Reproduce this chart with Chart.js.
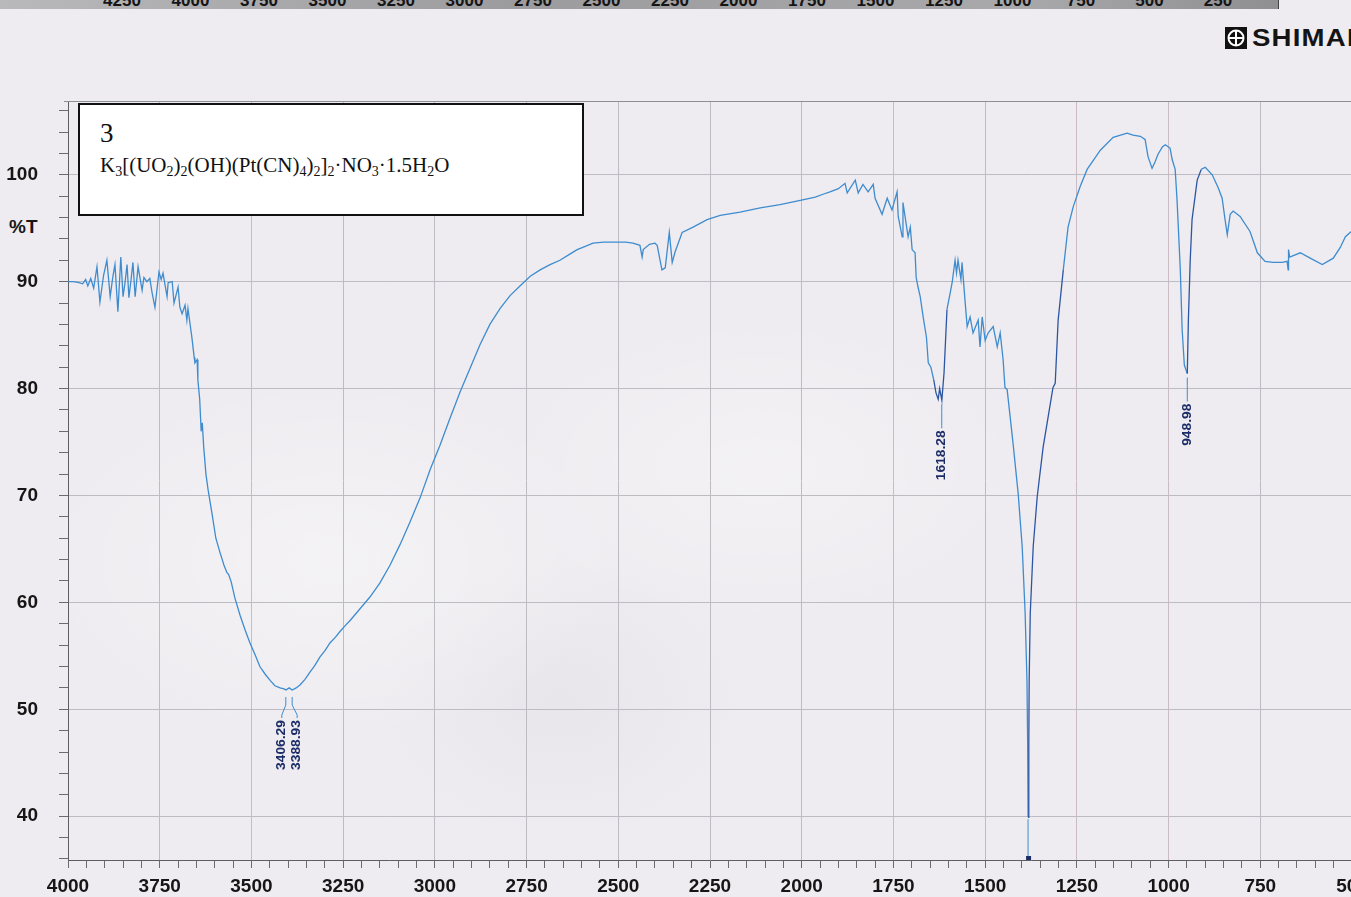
<!DOCTYPE html>
<html>
<head>
<meta charset="utf-8">
<title>IR spectrum 3</title>
<script src="https://cdn.jsdelivr.net/npm/chart.js@4.4.1/dist/chart.umd.min.js"></script>
<style>
html, body { margin: 0; padding: 0; width: 1351px; height: 897px; overflow: hidden; }
body {
    position: relative;
    font-family: 'Liberation Sans', Arial, sans-serif;
    background:
        radial-gradient(ellipse 420px 260px at 330px 560px, rgba(255,255,255,0.35), rgba(255,255,255,0) 70%),
        radial-gradient(ellipse 380px 220px at 760px 470px, rgba(255,255,255,0.3), rgba(255,255,255,0) 70%),
        radial-gradient(ellipse 260px 200px at 560px 700px, rgba(214,212,220,0.25), rgba(214,212,220,0) 70%),
        #eeecf0;
}
#chart-wrap { position: absolute; left: 0; top: 0; width: 1400px; height: 897px; }
#top-strip {
    position: absolute; left: 0; top: 0; width: 1278px; height: 9px; overflow: hidden;
    background: linear-gradient(to right, #b9b9bb, #9c9c9e 40%, #a9a9ab 80%, #8f8f91);
    border-right: 1px solid #444;
}
#top-strip span {
    position: absolute; top: -9px; font: bold 17px 'Liberation Sans', Arial, sans-serif; color: #151515;
    transform: translateX(-50%);
}
#logo { position: absolute; left: 1225px; top: 27px; height: 22px; white-space: nowrap; }
#logo svg { position: absolute; left: 0; top: 0; }
#logo span {
    position: absolute; left: 27px; top: -2px; font: bold 23px 'Liberation Sans', Arial, sans-serif;
    letter-spacing: 1px; color: #141414; transform: scaleX(1.2); transform-origin: left center;
}
#title-box {
    position: absolute; left: 78px; top: 103px; width: 502px; height: 109px;
    background: #fff; border: 2px solid #111; z-index: 2;
    font-family: 'Liberation Serif', 'Times New Roman', serif; color: #111;
}
#title-box .num { position: absolute; left: 20px; top: 13px; font-size: 27px; }
#title-box .formula { position: absolute; left: 20px; top: 48px; font-size: 21px; white-space: nowrap; }
#title-box sub { font-size: 14px; vertical-align: -4px; line-height: 0; }
#unit { position: absolute; left: 9px; top: 216px; font: bold 19px 'Liberation Sans', Arial, sans-serif; color: #161616; }
</style>
</head>
<body>

<div id="top-strip"></div>
<div id="logo">
    <svg width="22" height="22" viewBox="0 0 22 22">
        <rect x="0" y="0" width="22" height="22" fill="#111"/>
        <circle cx="11" cy="11" r="7.5" fill="none" stroke="#fff" stroke-width="2"/>
        <line x1="11" y1="3.5" x2="11" y2="18.5" stroke="#fff" stroke-width="2"/>
        <line x1="3.5" y1="11" x2="18.5" y2="11" stroke="#fff" stroke-width="2"/>
    </svg>
    <span>SHIMADZU</span>
</div>
<div id="title-box">
    <div class="num">3</div>
    <div class="formula">K<sub>3</sub>[(UO<sub>2</sub>)<sub>2</sub>(OH)(Pt(CN)<sub>4</sub>)<sub>2</sub>]<sub>2</sub>·NO<sub>3</sub>·1.5H<sub>2</sub>O</div>
</div>
<div id="unit">%T</div>

<div id="chart-wrap"><canvas id="ir-chart" width="1400" height="897"></canvas></div>

<script>
// Spectrum (wavenumber in cm-1, transmittance in %T)
const wavenumbers = [
    4000, 3985, 3970, 3960, 3952, 3946, 3938, 3930, 3921, 3913, 3903, 3894, 3885, 3878, 3872, 3864,
    3856, 3850, 3845, 3839, 3834, 3828, 3823, 3817, 3809, 3798, 3793, 3785, 3777, 3771, 3763, 3752,
    3746, 3741, 3730, 3727, 3716, 3711, 3700, 3695, 3689, 3681, 3676, 3673, 3662, 3656, 3654, 3648,
    3646, 3641, 3637, 3634, 3630, 3624, 3618, 3607, 3597, 3586, 3575, 3567, 3562, 3555, 3545, 3531,
    3517, 3504, 3490, 3477, 3463, 3449, 3436, 3422, 3411, 3406, 3397, 3389, 3378, 3367, 3354, 3340,
    3327, 3313, 3299, 3286, 3272, 3258, 3245, 3231, 3204, 3177, 3150, 3122, 3095, 3068, 3040, 3013,
    2986, 2959, 2931, 2904, 2877, 2850, 2822, 2795, 2768, 2740, 2713, 2686, 2659, 2631, 2612, 2590,
    2569, 2540, 2509, 2480, 2460, 2441, 2435, 2432, 2415, 2400, 2394, 2381, 2372, 2361, 2353, 2345,
    2326, 2296, 2258, 2222, 2168, 2113, 2059, 2004, 1963, 1940, 1923, 1900, 1882, 1876, 1854, 1846,
    1833, 1819, 1805, 1800, 1781, 1767, 1754, 1740, 1737, 1726, 1724, 1710, 1704, 1699, 1691, 1688,
    1683, 1677, 1669, 1660, 1655, 1648, 1640, 1634, 1628, 1624, 1618, 1612, 1604, 1595, 1590, 1582,
    1578, 1574, 1566, 1563, 1555, 1549, 1541, 1533, 1519, 1514, 1508, 1500, 1492, 1478, 1467, 1459,
    1451, 1446, 1440, 1424, 1410, 1399, 1391, 1386, 1384, 1383, 1381, 1380, 1377, 1369, 1358, 1342,
    1315, 1309, 1301, 1287, 1274, 1260, 1241, 1222, 1186, 1151, 1113, 1097, 1077, 1064, 1056, 1045,
    1037, 1029, 1017, 1009, 996, 990, 982, 977, 968, 963, 957, 949, 946, 941, 936, 922,
    911, 900, 881, 865, 854, 846, 840, 832, 824, 805, 778, 758, 737, 715, 690, 677,
    674, 673, 670, 641, 614, 581, 551, 532, 518, 502
];
const transmittance = [
    90.0, 90.0, 89.9, 89.8, 90.2, 89.6, 90.3, 89.4, 91.4, 88.1, 90.6, 92.0, 88.6, 90.4, 91.6, 87.2,
    92.3, 88.6, 89.8, 91.6, 88.5, 90.2, 91.8, 88.6, 91.4, 89.2, 90.4, 90.0, 90.3, 89.0, 87.6, 90.9,
    90.2, 90.8, 88.6, 89.9, 90.0, 88.0, 89.5, 87.6, 87.0, 87.8, 86.4, 87.5, 84.7, 82.9, 82.4, 82.7,
    80.8, 79.0, 76.0, 76.8, 74.5, 72.0, 70.5, 68.2, 66.0, 64.7, 63.5, 62.8, 62.6, 61.9, 60.4, 58.8,
    57.4, 56.2, 55.1, 54.0, 53.3, 52.7, 52.2, 52.0, 51.9, 51.8, 52.0, 51.8, 52.0, 52.3, 52.8, 53.5,
    54.1, 54.9, 55.5, 56.2, 56.7, 57.3, 57.8, 58.3, 59.4, 60.5, 61.8, 63.5, 65.4, 67.5, 69.8, 72.4,
    74.7, 77.2, 79.7, 81.9, 84.1, 86.0, 87.5, 88.7, 89.6, 90.5, 91.1, 91.6, 92.0, 92.6, 93.0, 93.3,
    93.6, 93.7, 93.7, 93.7, 93.6, 93.4, 92.3, 93.0, 93.5, 93.6, 93.4, 91.1, 91.3, 94.6, 91.8, 92.8,
    94.6, 95.1, 95.8, 96.2, 96.5, 96.9, 97.2, 97.6, 97.9, 98.2, 98.4, 98.7, 99.2, 98.3, 99.5, 98.3,
    99.1, 98.4, 99.1, 97.8, 96.3, 97.8, 96.7, 98.4, 96.1, 94.2, 97.4, 94.2, 95.1, 93.0, 92.7, 90.4,
    89.5, 88.6, 86.7, 84.8, 82.4, 82.0, 80.8, 79.6, 79.0, 80.0, 78.9, 81.5, 87.4, 89.0, 89.9, 92.0,
    90.8, 92.0, 90.2, 91.8, 88.3, 85.8, 86.7, 85.2, 86.4, 83.9, 86.7, 84.5, 85.2, 85.8, 83.9, 85.2,
    82.7, 80.1, 79.9, 74.9, 70.2, 65.2, 59.0, 52.7, 46.4, 39.9, 46.4, 52.7, 59.0, 65.2, 69.9, 74.5,
    80.1, 80.5, 86.4, 91.1, 95.1, 97.0, 98.9, 100.5, 102.3, 103.5, 103.9, 103.7, 103.6, 103.3, 101.7, 100.6,
    101.2, 101.9, 102.6, 102.8, 102.5, 101.4, 100.5, 97.7, 91.1, 85.5, 82.2, 81.4, 86.4, 92.0, 95.8, 99.5,
    100.5, 100.7, 100.0, 98.8, 97.8, 95.8, 94.4, 96.3, 96.6, 96.1, 94.7, 92.7, 91.9, 91.8, 91.8, 91.9,
    91.1, 93.0, 92.3, 92.7, 92.2, 91.6, 92.2, 93.2, 94.2, 94.7
];

// Axis labels
const xTickLabels = [4000, 3750, 3500, 3250, 3000, 2750, 2500, 2250, 2000, 1750, 1500, 1250, 1000, 750, 500];
const yTickLabels = [40, 50, 60, 70, 80, 90, 100];

// Peak picks printed under the bands
const peakWavenumbers = [3406.29, 3388.93, 1618.28, 948.98, 1383];
const peakTexts = ['3406.29', '3388.93', '1618.28', '948.98', ''];

// Labels of the page above, cut off at the top of the scan
const topStripLabels = ['4250', '4000', '3750', '3500', '3250', '3000', '2750', '2500', '2250', '2000', '1750', '1500', '1250', '1000', '750', '500', '250'];

const strip = document.getElementById('top-strip');
topStripLabels.forEach((label, i) => {
    const span = document.createElement('span');
    span.textContent = label;
    span.style.left = (122 + i * 68.5) + 'px';
    strip.appendChild(span);
});

// Nearest recorded transmittance for a wavenumber
function transAt(nu) {
    let best = 0;
    wavenumbers.forEach((w, i) => {
        if (Math.abs(w - nu) < Math.abs(wavenumbers[best] - nu)) best = i;
    });
    return transmittance[best];
}

const curveColor = '#3e8ccf';
const darkColor = '#2c56a3';
const labelColor = '#1b2c66';
const gridColor = '#bcbcc2';
const pinkGrid = '#cbbcc4';

// Frame line on top and the peak labels with their leaders
const peakMarks = {
    id: 'peakMarks',
    beforeDatasetsDraw(chart) {
        const { ctx, chartArea } = chart;
        ctx.save();
        ctx.strokeStyle = '#8e8e95';
        ctx.lineWidth = 1;
        ctx.beginPath();
        ctx.moveTo(chartArea.left - 4, chartArea.top + 0.5);
        ctx.lineTo(chartArea.right, chartArea.top + 0.5);
        ctx.stroke();
        ctx.restore();
    },
    afterDatasetsDraw(chart) {
        const { ctx, chartArea, scales } = chart;
        const shifts = [-4, 5, 0, 0, 0];
        ctx.save();
        peakWavenumbers.forEach((nu, i) => {
            const px = scales.x.getPixelForValue(nu);
            const py = scales.y.getPixelForValue(transAt(nu));
            const pair = shifts[i] !== 0;
            const start = py + (pair ? 7 : 4);
            const lx = px + shifts[i];
            ctx.strokeStyle = curveColor;
            ctx.lineWidth = 1;
            ctx.beginPath();
            if (peakTexts[i] === '') {
                ctx.moveTo(px, py + 2);
                ctx.lineTo(px, chartArea.bottom - 4);
                ctx.stroke();
                ctx.fillStyle = labelColor;
                ctx.fillRect(px - 2, chartArea.bottom - 4, 5, 4);
                return;
            }
            const end = start + (pair ? 21 : 24);
            ctx.moveTo(px, start);
            ctx.lineTo(px, start + 8);
            ctx.lineTo(lx, end - 3);
            ctx.lineTo(lx, end);
            ctx.stroke();
            // vertical text, read bottom to top
            ctx.save();
            ctx.translate(lx, end + 2);
            ctx.rotate(-Math.PI / 2);
            ctx.scale(1.15, 1);
            ctx.font = 'bold 12px "Liberation Sans", Arial, sans-serif';
            ctx.fillStyle = labelColor;
            ctx.textAlign = 'right';
            ctx.textBaseline = 'middle';
            ctx.fillText(peakTexts[i], 0, 0);
            ctx.restore();
        });
        ctx.restore();
    }
};

function loadSpectrumChart() {
    const ctx = document.getElementById('ir-chart').getContext('2d');
    const points = wavenumbers.map((w, i) => ({ x: w, y: transmittance[i] }));
    const darkRanges = [[1290, 1383], [922, 949], [1612, 1640]];

    new Chart(ctx, {
        type: 'line',
        data: {
            datasets: [{
                label: '%T',
                data: points,
                borderColor: curveColor,
                borderWidth: 1.3,
                pointRadius: 0,
                tension: 0,
                fill: false,
                segment: {
                    borderColor: c => {
                        const w = c.p0.parsed.x;
                        return darkRanges.some(r => w >= r[0] && w <= r[1]) ? darkColor : curveColor;
                    }
                }
            }]
        },
        options: {
            responsive: false,
            animation: false,
            devicePixelRatio: 1,
            layout: { padding: { top: 101, right: 48, left: 0, bottom: 0 } },
            plugins: { legend: { display: false }, tooltip: { enabled: false } },
            scales: {
                x: {
                    type: 'linear',
                    reverse: true,
                    min: 500,
                    max: 4000,
                    afterFit: scale => { scale.height = 37; },
                    afterBuildTicks: scale => {
                        const ticks = [];
                        for (let v = 4000; v >= 500; v -= 50) ticks.push({ value: v });
                        scale.ticks = ticks;
                    },
                    ticks: {
                        autoSkip: false,
                        maxRotation: 0,
                        padding: 7,
                        color: '#161616',
                        font: { family: "'Liberation Sans', Arial, sans-serif", size: 19, weight: 'bold' },
                        callback: value => xTickLabels.includes(value) ? String(value) : ''
                    },
                    grid: {
                        color: c => {
                            const v = c.tick ? c.tick.value : 0;
                            if (v % 250 !== 0) return 'rgba(0,0,0,0)';
                            return [3500, 1750, 1250, 1000].includes(v) ? pinkGrid : gridColor;
                        },
                        lineWidth: 1,
                        tickColor: '#6b6b70',
                        tickLength: 8
                    },
                    border: { display: true, color: '#5d5d62', width: 1 }
                },
                y: {
                    min: 35.9,
                    max: 106.9,
                    afterFit: scale => { scale.width = 68; },
                    afterBuildTicks: scale => {
                        const ticks = [];
                        for (let v = 36; v <= 106; v += 2) ticks.push({ value: v });
                        scale.ticks = ticks;
                    },
                    ticks: {
                        autoSkip: false,
                        padding: 21,
                        color: '#161616',
                        font: { family: "'Liberation Sans', Arial, sans-serif", size: 19, weight: 'bold' },
                        callback: value => yTickLabels.includes(value) ? String(value) : ''
                    },
                    grid: {
                        color: c => (c.tick && c.tick.value % 10 === 0) ? gridColor : 'rgba(0,0,0,0)',
                        lineWidth: 1,
                        tickColor: '#6b6b70',
                        tickLength: 9
                    },
                    border: { display: true, color: '#5d5d62', width: 1 }
                }
            }
        },
        plugins: [peakMarks]
    });
}

loadSpectrumChart();
</script>
</body>
</html>
